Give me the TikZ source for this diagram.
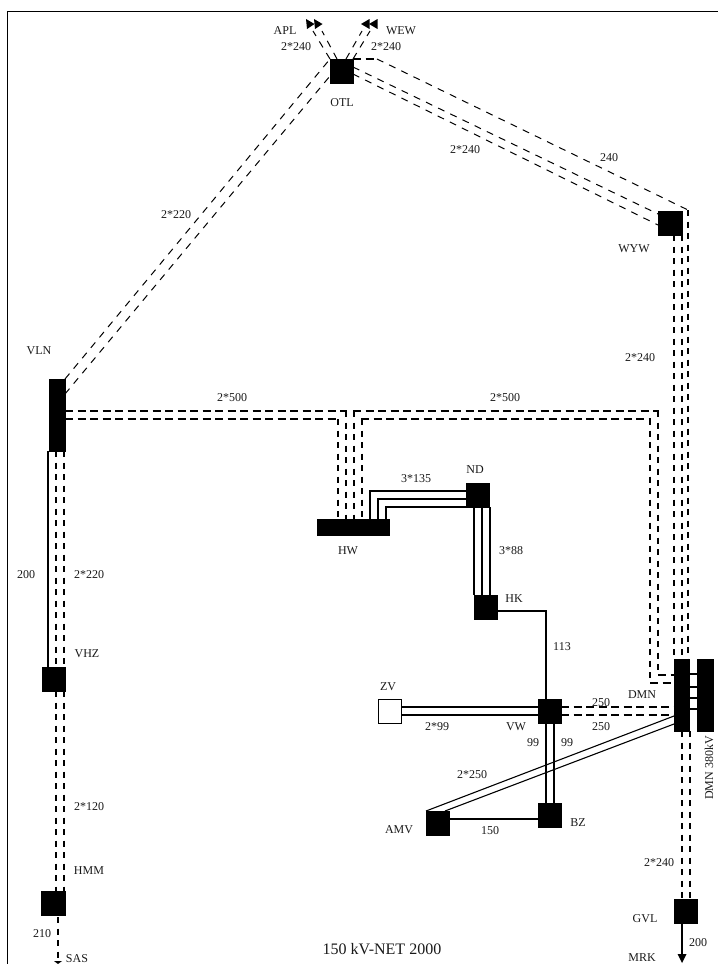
\documentclass[tikz,border=0pt]{standalone}
\usepackage{fontspec}
\setmainfont{Liberation Serif}
\tikzset{
  x=1pt,y=-1pt,
  bus/.style={fill=black,draw=black,line width=0.5pt},
  openbus/.style={fill=white,draw=black,line width=1pt},
  solidline/.style={draw=black,line width=1.1pt},
  thickdash/.style={draw=black,line width=1.9pt,dash pattern=on 8pt off 4.5pt},
  vertdash/.style={draw=black,line width=1.9pt,dash pattern=on 6pt off 5.5pt},
  thindash/.style={draw=black,line width=1pt,dash pattern=on 7pt off 6.5pt},
  lab/.style={font=\fontsize{12}{14}\selectfont,text=black!90,inner sep=0pt},
  head/.style={fill=black,draw=none},
}
\newcommand{\busbox}[5]{\path[#1] (#2,#3) rectangle (#4,#5);}
\begin{document}
\begin{tikzpicture}
\useasboundingbox (0,0) rectangle (718,964);
% frame
\coordinate (fa) at (7.5,964); \coordinate (fb) at (7.5,11.5); \coordinate (fc) at (718,11.5);
\draw[black,line width=1.3pt] (fa) -- (fb) -- (fc);
% free end points and bends
\coordinate (otlNW) at (330,59);
\coordinate (otlW) at (330,76);
\coordinate (vlnA) at (65,379);
\coordinate (vlnB) at (65,394);
\coordinate (aplA) at (313,31); \coordinate (aplB) at (322,31);
\coordinate (wewA) at (362,31); \coordinate (wewB) at (370,31);
\coordinate (otlA) at (330,59); \coordinate (otlB) at (337,59);
\coordinate (otlC) at (346,59); \coordinate (otlD) at (353,59);
\coordinate (bend) at (377,59); \coordinate (bendb) at (688,210);
% thin dashed lines
\draw[thindash] (vlnA) -- (otlNW);
\draw[thindash] (vlnB) -- (otlW);
\draw[thindash] (otlA) -- (aplA);
\draw[thindash] (otlB) -- (aplB);
\draw[thindash] (otlC) -- (wewA);
\draw[thindash] (otlD) -- (wewB);
\draw[thindash] (353,67) -- (658,214);
\draw[thindash] (353,74) -- (658,225);
\draw[thindash] (bend) -- (bendb);
\draw[thickdash] (otlD) -- (bend);
% vertical thick dashed lines
\draw[vertdash] (688,210) -- (688,659);
\draw[vertdash] (674,235) -- (674,659);
\draw[vertdash] (682,235) -- (682,659);
\draw[vertdash] (346,411) -- (346,519);
\draw[vertdash] (338,419) -- (338,519);
\draw[vertdash] (354,411) -- (354,519);
\draw[vertdash] (362,419) -- (362,519);
\draw[vertdash] (658,411) -- (658,675);
\draw[vertdash] (650,419) -- (650,683);
\draw[vertdash] (56,451) -- (56,667);
\draw[vertdash] (64,451) -- (64,667);
\draw[vertdash] (56,691) -- (56,891);
\draw[vertdash] (64,691) -- (64,891);
\draw[vertdash] (58,917) -- (58,960);
\draw[vertdash] (682,731) -- (682,899);
\draw[vertdash] (690,731) -- (690,899);
% horizontal thick dashed lines
\draw[thickdash] (65,411) -- (347,411);
\draw[thickdash] (65,419) -- (339,419);
\draw[thickdash] (353,411) -- (659,411);
\draw[thickdash] (361,419) -- (651,419);
\draw[thickdash] (658,675) -- (674,675);
\draw[thickdash] (650,683) -- (674,683);
\draw[thickdash] (561,707) -- (674,707);
\draw[thickdash] (561,715) -- (674,715);
% solid lines
\draw[solidline] (48,451) -- (48,667);
\draw[solidline] (370,519) -- (370,491) -- (466,491);
\draw[solidline] (378,519) -- (378,499) -- (466,499);
\draw[solidline] (386,519) -- (386,507) -- (466,507);
\draw[solidline] (474,507) -- (474,595);
\draw[solidline] (482,507) -- (482,595);
\draw[solidline] (490,507) -- (490,595);
\draw[solidline] (497,611) -- (546,611) -- (546,699);
\draw[solidline] (401,707) -- (538,707);
\draw[solidline] (401,715) -- (538,715);
\draw[solidline] (546,723) -- (546,803);
\draw[solidline] (554,723) -- (554,803);
\draw[solidline] (426,811) -- (674,716);
\draw[solidline] (445,811) -- (674,724);
\draw[solidline] (449,819) -- (538,819);
\draw[solidline] (682,923) -- (682,955);
\foreach \yy in {674,687,698,709} \draw[black,line width=2pt] (689,\yy) -- (697,\yy);
% buses
\busbox{bus}{330}{59}{353}{83}
\busbox{bus}{658}{211}{682}{235}
\busbox{bus}{49.5}{379}{65}{451}
\busbox{bus}{317}{519}{389}{535}
\busbox{bus}{466}{483}{489}{507}
\busbox{bus}{474}{595}{497}{619}
\busbox{bus}{674}{659}{689}{731}
\busbox{bus}{697}{659}{713}{731}
\busbox{bus}{538}{699}{561}{723}
\busbox{openbus}{378}{699}{401}{723}
\busbox{bus}{538}{803}{561}{827}
\busbox{bus}{426}{811}{449}{835}
\busbox{bus}{41}{891}{65}{915}
\busbox{bus}{42}{667}{65}{691}
\busbox{bus}{674}{899}{697}{923}
% arrowheads
\fill[head] (306,19) -- (314.5,24) -- (307,29) -- cycle;
\fill[head] (314,19) -- (322.5,24) -- (315,29) -- cycle;
\fill[head] (369.5,19) -- (361,24) -- (369.5,29) -- cycle;
\fill[head] (377.5,19) -- (369,24) -- (377.5,29) -- cycle;
\fill[head] (54,961) -- (62,961) -- (58,964) -- cycle;
\fill[head] (677.5,954) -- (686.5,954) -- (682,963) -- cycle;
% labels
\node[lab] (lapl) at (285,31) {APL};
\node[lab] (la1) at (296,47) {2*240};
\node[lab] (lwew) at (401,31) {WEW};
\node[lab] (la2) at (386,47) {2*240};
\node[lab] (lotl) at (342,103) {OTL};
\node[lab] (la3) at (609,158) {240};
\node[lab] (la4) at (465,150) {2*240};
\node[lab] (lwyw) at (634,249) {WYW};
\node[lab] (la5) at (176,215) {2*220};
\node[lab] (lvln) at (39,351) {VLN};
\node[lab] (la6) at (640,358) {2*240};
\node[lab] (la7) at (232,398) {2*500};
\node[lab] (la8) at (505,398) {2*500};
\node[lab] (la9) at (416,479) {3*135};
\node[lab] (lnd) at (475,470) {ND};
\node[lab] (lhw) at (348,551) {HW};
\node[lab] (la10) at (511,551) {3*88};
\node[lab] (lhk) at (514,599) {HK};
\node[lab] (la11) at (26,575) {200};
\node[lab] (la12) at (89,575) {2*220};
\node[lab] (lvhz) at (87,654) {VHZ};
\node[lab] (la13) at (562,647) {113};
\node[lab] (lzv) at (388,687) {ZV};
\node[lab] (la14) at (437,727) {2*99};
\node[lab] (lvw) at (516,727) {VW};
\node[lab] (la15) at (601,703) {250};
\node[lab] (la16) at (601,727) {250};
\node[lab] (ldmn) at (642,695) {DMN};
\node[lab] (la17) at (533,743) {99};
\node[lab] (la18) at (567,743) {99};
\node[lab] (la19) at (472,775) {2*250};
\node[lab] (lamv) at (399,830) {AMV};
\node[lab] (la20) at (490,831) {150};
\node[lab] (lbz) at (578,823) {BZ};
\node[lab] (la21) at (89,807) {2*120};
\node[lab] (lhmm) at (89,871) {HMM};
\node[lab] (la22) at (42,934) {210};
\node[lab] (lsas) at (77,959) {SAS};
\node[lab,font=\fontsize{16}{18}\selectfont] (ltitle) at (382,949) {150 kV-NET 2000};
\node[lab] (la23) at (659,863) {2*240};
\node[lab] (lgvl) at (645,919) {GVL};
\node[lab] (la24) at (698,943) {200};
\node[lab] (lmrk) at (642,958) {MRK};
\node[lab,rotate=90] (l380) at (709,768) {DMN 380kV};
\end{tikzpicture}
\end{document}
